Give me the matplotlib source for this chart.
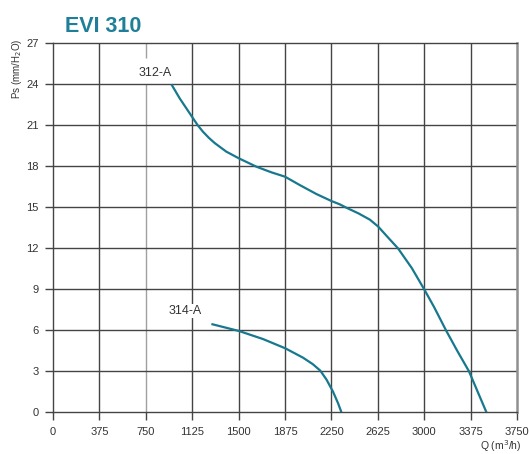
import matplotlib
matplotlib.use("Agg")
import matplotlib.pyplot as plt

plt.rcParams['font.family'] = ['Liberation Sans', 'DejaVu Sans']

# fan curves, flow Q (m3/h) vs static pressure Ps (mm H2O)
q_312 = [957, 1024, 1078, 1132, 1170, 1212, 1260, 1307, 1401, 1503, 1644, 1765, 1875, 1994,
         2129, 2250, 2317, 2371, 2470, 2560, 2627, 2721, 2788, 2900, 3000, 3080,
         3179, 3270, 3362, 3430, 3503]
ps_312 = [24.0, 22.97, 22.24, 21.51, 21.0, 20.53, 20.08, 19.7, 19.07, 18.58, 17.97, 17.56, 17.24, 16.63,
          15.97, 15.46, 15.22, 14.97, 14.55, 14.1, 13.6, 12.66, 12.0, 10.55, 9.0, 7.7,
          5.95, 4.45, 3.0, 1.55, 0.0]

q_314 = [1280, 1503, 1697, 1878, 2020, 2100, 2160, 2210, 2263, 2304, 2331]
ps_314 = [6.46, 5.95, 5.36, 4.68, 4.0, 3.52, 3.05, 2.4, 1.51, 0.66, 0.0]

x_ticks = [0, 375, 750, 1125, 1500, 1875, 2250, 2625, 3000, 3375, 3750]
y_ticks = [0, 3, 6, 9, 12, 15, 18, 21, 24, 27]

curve_color = '#17788e'
grid_color = '#444444'

fig = plt.figure(figsize=(5.29, 4.54), dpi=100)
ax = fig.add_axes([53 / 529, 1 - 412.3 / 454, 464 / 529, 369 / 454])

ax.set_xlim(0, 3750)
ax.set_ylim(0, 27)
ax.set_xticks(x_ticks)
ax.set_yticks(y_ticks)
ax.tick_params(axis='both', length=5.8, width=1.0, color=grid_color,
               labelsize=8, labelcolor='#333333', pad=4.5)

# grid; the 750 line is lighter and broken around the 312-A label
for x in x_ticks[1:-1]:
    if x == 750:
        ax.vlines(x, 0, 24.05, color='#a0a0a0', lw=1.0, zorder=1)
        ax.vlines(x, 25.95, 27, color='#a0a0a0', lw=1.0, zorder=1)
    else:
        ax.axvline(x, color=grid_color, lw=1.0, zorder=1)
for y in y_ticks[1:-1]:
    ax.axhline(y, color=grid_color, lw=1.0, zorder=1)

for side in ['left', 'bottom', 'top']:
    ax.spines[side].set_color(grid_color)
    ax.spines[side].set_linewidth(1.0)
ax.spines['right'].set_color('#909090')
ax.spines['right'].set_linewidth(1.8)

ax.plot(q_312, ps_312, color=curve_color, lw=1.6, zorder=3,
        solid_capstyle='butt', solid_joinstyle='round')
ax.plot(q_314, ps_314, color=curve_color, lw=1.6, zorder=3,
        solid_capstyle='butt', solid_joinstyle='round')

ax.text(822, 24.86, '312-A', fontsize=9, color='#333333', ha='center', va='center', zorder=2)
ax.text(1067, 7.41, '314-A', fontsize=9, color='#333333', ha='center', va='center',
        zorder=2, bbox=dict(facecolor='white', edgecolor='none', pad=0.5))

fig.text(65 / 529, 1 - 32 / 454, 'EVI 310', fontsize=15.5, fontweight='bold',
         color='#1f7f99', ha='left', va='baseline')
fig.text(17.5 / 529, 1 - 68.5 / 454, 'Ps (mm/H$_2$O)', fontsize=7, color='#333333',
         rotation=90, ha='center', va='center')
fig.text(522 / 529, 1 - 446 / 454, 'Q (m$^3$/h)', fontsize=7.5, color='#333333',
         ha='right', va='center')

fig.savefig('out.png', dpi=100)
